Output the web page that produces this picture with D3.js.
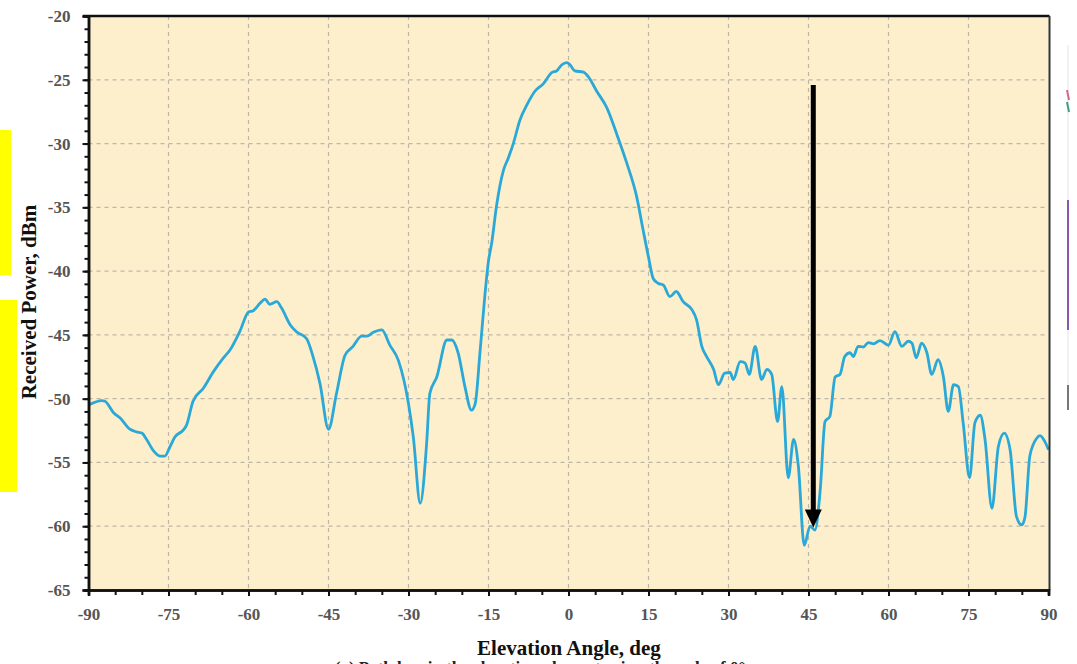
<!DOCTYPE html>
<html>
<head>
<meta charset="utf-8">
<script src="https://cdn.jsdelivr.net/npm/d3@7"></script>
<style>
  body { margin: 0; background: #fff; }
  svg { display: block; }
</style>
</head>
<body>
<svg id="chart" width="1077" height="664"></svg>
<script>
var angles = [-90, -87.5, -86.9, -85.3, -84.1, -82.2, -81, -80, -79.1, -77.8, -76.6, -75.7, -74.7, -73.8, -72.2, -71.6,
  -70.4, -68.5, -66.6, -64.7, -63.5, -61.6, -60, -59.1, -57.8, -56.9, -56, -54.7, -53.8, -52.2, -51, -49.1,
  -47.9, -46.6, -45, -43.5, -41.9, -40.4, -38.8, -37.8, -36.6, -35, -33.5, -31.9, -30, -29.1, -27.8, -26.6,
  -26, -24.7, -22.8, -21.9, -20.7, -19.4, -18.2, -17.5, -16.6, -15.7, -15, -14.4, -13.5, -12.2, -11.3, -10.35,
  -9.1, -7.8, -6.3, -4.7, -3.15, -2.2, -1.3, -0.3, 0.3, 1.2, 2.8, 3.7, 5.3, 7.2, 9, 10.9,
  12.8, 14, 15, 15.9, 16.8, 17.8, 19, 20.2, 21.5, 23.1, 24, 25, 25.9, 27.2, 28.1, 29.3,
  30.3, 30.9, 32.2, 33.1, 33.9, 35, 36.2, 37.2, 38.1, 39.2, 40, 41.2, 42.2, 43.1, 44.2, 45.3,
  46.2, 47.2, 48.1, 49, 50, 50.9, 51.8, 52.8, 53.4, 54.3, 55.3, 56.2, 57.2, 58.4, 60, 61.2,
  62.5, 63.7, 64.4, 65.2, 66.2, 67.2, 68.1, 69.3, 70.3, 71.2, 72.2, 73.1, 74, 75.2, 76.2, 77.2,
  78.1, 79.4, 80.6, 81.7, 82.8, 84, 85, 85.6, 86.5, 87.8, 88.4, 89.3, 90];
var power = [-50.5, -50.15, -50.2, -51.1, -51.5, -52.4, -52.6, -52.7, -53.2, -54.1, -54.5, -54.5, -53.75, -53, -52.45, -52.05,
  -50.2, -49.2, -47.9, -46.8, -46.2, -44.7, -43.2, -43.1, -42.5, -42.2, -42.6, -42.4, -42.9, -44.2, -44.75, -45.3,
  -46.7, -48.8, -52.4, -49.6, -46.6, -45.9, -45.1, -45.1, -44.8, -44.6, -45.8, -47, -50.4, -53, -58.2, -53.5,
  -49.6, -48.3, -45.4, -45.4, -46.4, -49.1, -50.9, -50.4, -46.4, -42, -39.2, -37.8, -34.9, -32.1, -31.15, -30,
  -28.15, -26.97, -25.9, -25.3, -24.44, -24.3, -23.84, -23.66, -23.84, -24.3, -24.4, -24.75, -25.9, -27.2, -29.2, -31.5,
  -34.2, -36.8, -38.9, -40.6, -40.95, -41.1, -42, -41.6, -42.4, -43, -43.8, -45.9, -46.7, -47.7, -48.9, -48,
  -47.95, -48.5, -47.1, -47.2, -48.1, -45.9, -48.5, -47.7, -48.1, -51.8, -49.05, -56.2, -53.2, -55.3, -61.5, -60,
  -60.3, -57.15, -51.8, -51.4, -48.3, -48.1, -46.7, -46.4, -46.7, -45.9, -45.95, -45.6, -45.7, -45.45, -45.8, -44.75,
  -45.9, -45.5, -45.65, -46.8, -45.65, -46.4, -48.1, -46.95, -48.3, -51, -48.9, -49.05, -51.9, -56.2, -51.9, -51.3,
  -53.2, -58.6, -53.75, -52.7, -54, -59.25, -59.9, -59.25, -54.5, -53.1, -52.9, -53.35, -54];

var xMajor = [-90, -75, -60, -45, -30, -15, 0, 15, 30, 45, 60, 75, 90];
var yMajor = [-65, -60, -55, -50, -45, -40, -35, -30, -25, -20];

// arrow annotation (deg, dBm)
var arrowAngle = 45.9;
var arrowTop = -25.4;
var arrowTip = -60.1;

var xTitle = 'Elevation Angle, deg';
var yTitle = 'Received Power, dBm';
var caption = '(a) Path loss in the elevation plane at azimuth angle of 0°';

var svg = d3.select('#chart');
var serif = "'Liberation Serif', 'DejaVu Serif', serif";

var x = d3.scaleLinear().domain([-90, 90]).range([88.5, 1048.5]);
var y = d3.scaleLinear().domain([-65, -20]).range([590, 16]);

//yellow marks on the left edge
svg.append('rect').attr('x', 0).attr('y', 130).attr('width', 11).attr('height', 145).style('fill', '#ffff00');
svg.append('rect').attr('x', 0).attr('y', 300).attr('width', 17).attr('height', 192).style('fill', '#ffff00');

//plot background
svg.append('rect')
  .attr('x', x(-90)).attr('y', y(-20))
  .attr('width', x(90) - x(-90)).attr('height', y(-65) - y(-20))
  .style('fill', '#fdefcb');

//grid
svg.append('g').selectAll('line')
  .data(xMajor.slice(1, -1))
  .enter().append('line')
  .attr('x1', d => x(d)).attr('x2', d => x(d))
  .attr('y1', y(-20)).attr('y2', y(-65))
  .style('stroke', '#bdb7aa').style('stroke-width', 1.2)
  .style('stroke-dasharray', '4,4');
svg.append('g').selectAll('line')
  .data(yMajor.slice(1, -1))
  .enter().append('line')
  .attr('x1', x(-90)).attr('x2', x(90))
  .attr('y1', d => y(d)).attr('y2', d => y(d))
  .style('stroke', '#bdb7aa').style('stroke-width', 1.2)
  .style('stroke-dasharray', '4,4');

//curve
var pts = angles.map((a, i) => [a, power[i]]);
var line = d3.line()
  .x(d => x(d[0]))
  .y(d => y(d[1]))
  .curve(d3.curveMonotoneX);
svg.append('path')
  .attr('d', line(pts))
  .style('fill', 'none')
  .style('stroke', '#2aa8d8')
  .style('stroke-width', 2.8)
  .style('stroke-linejoin', 'round');

//frame top and right
svg.append('line').attr('x1', 83).attr('x2', x(90) + 1).attr('y1', y(-20)).attr('y2', y(-20))
  .style('stroke', '#111').style('stroke-width', 2.5);
svg.append('line').attr('x1', x(90) + 1).attr('x2', x(90) + 1).attr('y1', y(-20)).attr('y2', y(-65))
  .style('stroke', '#333').style('stroke-width', 2);

//axes
var yMinor = d3.range(-65, -19, 1);
var xMinor = d3.range(-90, 91, 5);
var plainNum = d => String(d);

var yMinorAxis = d3.axisLeft(y).tickValues(yMinor).tickSize(4).tickFormat('');
var yAxis = d3.axisLeft(y).tickValues(yMajor).tickSize(6).tickPadding(12).tickFormat(plainNum);
var xMinorAxis = d3.axisBottom(x).tickValues(xMinor).tickSize(5).tickFormat('');
var xAxis = d3.axisBottom(x).tickValues(xMajor).tickSize(6).tickPadding(12).tickFormat(plainNum);

function styleAxis(g) {
  g.select('.domain').style('stroke', '#111').style('stroke-width', 2.5);
  g.selectAll('.tick line').style('stroke', '#111').style('stroke-width', 2);
  g.selectAll('.tick text')
    .style('font-family', serif)
    .style('font-size', '17px')
    .style('font-weight', 'bold')
    .style('fill', '#555');
}

svg.append('g').attr('transform', 'translate(' + x(-90) + ',0)').call(yMinorAxis).call(styleAxis);
svg.append('g').attr('transform', 'translate(' + x(-90) + ',0)').call(yAxis).call(styleAxis);
svg.append('g').attr('transform', 'translate(0,' + y(-65) + ')').call(xMinorAxis).call(styleAxis);
svg.append('g').attr('transform', 'translate(0,' + y(-65) + ')').call(xAxis).call(styleAxis);

//arrow
var ax = x(arrowAngle);
svg.append('line')
  .attr('x1', ax).attr('x2', ax)
  .attr('y1', y(arrowTop)).attr('y2', y(arrowTip) - 16)
  .style('stroke', '#000').style('stroke-width', 5);
svg.append('path')
  .attr('d', 'M' + (ax - 8.5) + ',' + (y(arrowTip) - 18) + 'L' + (ax + 8.5) + ',' + (y(arrowTip) - 18) + 'L' + ax + ',' + y(arrowTip) + 'Z')
  .style('fill', '#000');

//titles
svg.append('text')
  .attr('x', 569).attr('y', 655)
  .attr('text-anchor', 'middle')
  .style('font-family', serif).style('font-size', '21px').style('font-weight', 'bold')
  .style('fill', '#111')
  .text(xTitle);
svg.append('text')
  .attr('transform', 'translate(36,302) rotate(-90)')
  .attr('text-anchor', 'middle')
  .style('font-family', serif).style('font-size', '21px').style('font-weight', 'bold')
  .style('fill', '#111')
  .text(yTitle);
// caption of the source figure, cut off by the bottom edge
svg.append('text')
  .attr('x', 540).attr('y', 673)
  .attr('text-anchor', 'middle')
  .style('font-family', serif).style('font-size', '17px').style('font-weight', 'bold')
  .style('fill', '#222')
  .text(caption);

//bits of the neighbouring figure on the right
svg.append('line').attr('x1', 1068).attr('x2', 1068).attr('y1', 45).attr('y2', 410)
  .style('stroke', '#e4e4e4').style('stroke-width', 1);
svg.append('line').attr('x1', 1067).attr('x2', 1069).attr('y1', 90).attr('y2', 100)
  .style('stroke', '#d06a8a').style('stroke-width', 2);
svg.append('line').attr('x1', 1067).attr('x2', 1069).attr('y1', 102).attr('y2', 112)
  .style('stroke', '#3fa07a').style('stroke-width', 2);
svg.append('line').attr('x1', 1068).attr('x2', 1068).attr('y1', 200).attr('y2', 330)
  .style('stroke', '#8a5aa8').style('stroke-width', 2);
svg.append('line').attr('x1', 1068).attr('x2', 1068).attr('y1', 385).attr('y2', 410)
  .style('stroke', '#777').style('stroke-width', 2);
</script>
</body>
</html>
